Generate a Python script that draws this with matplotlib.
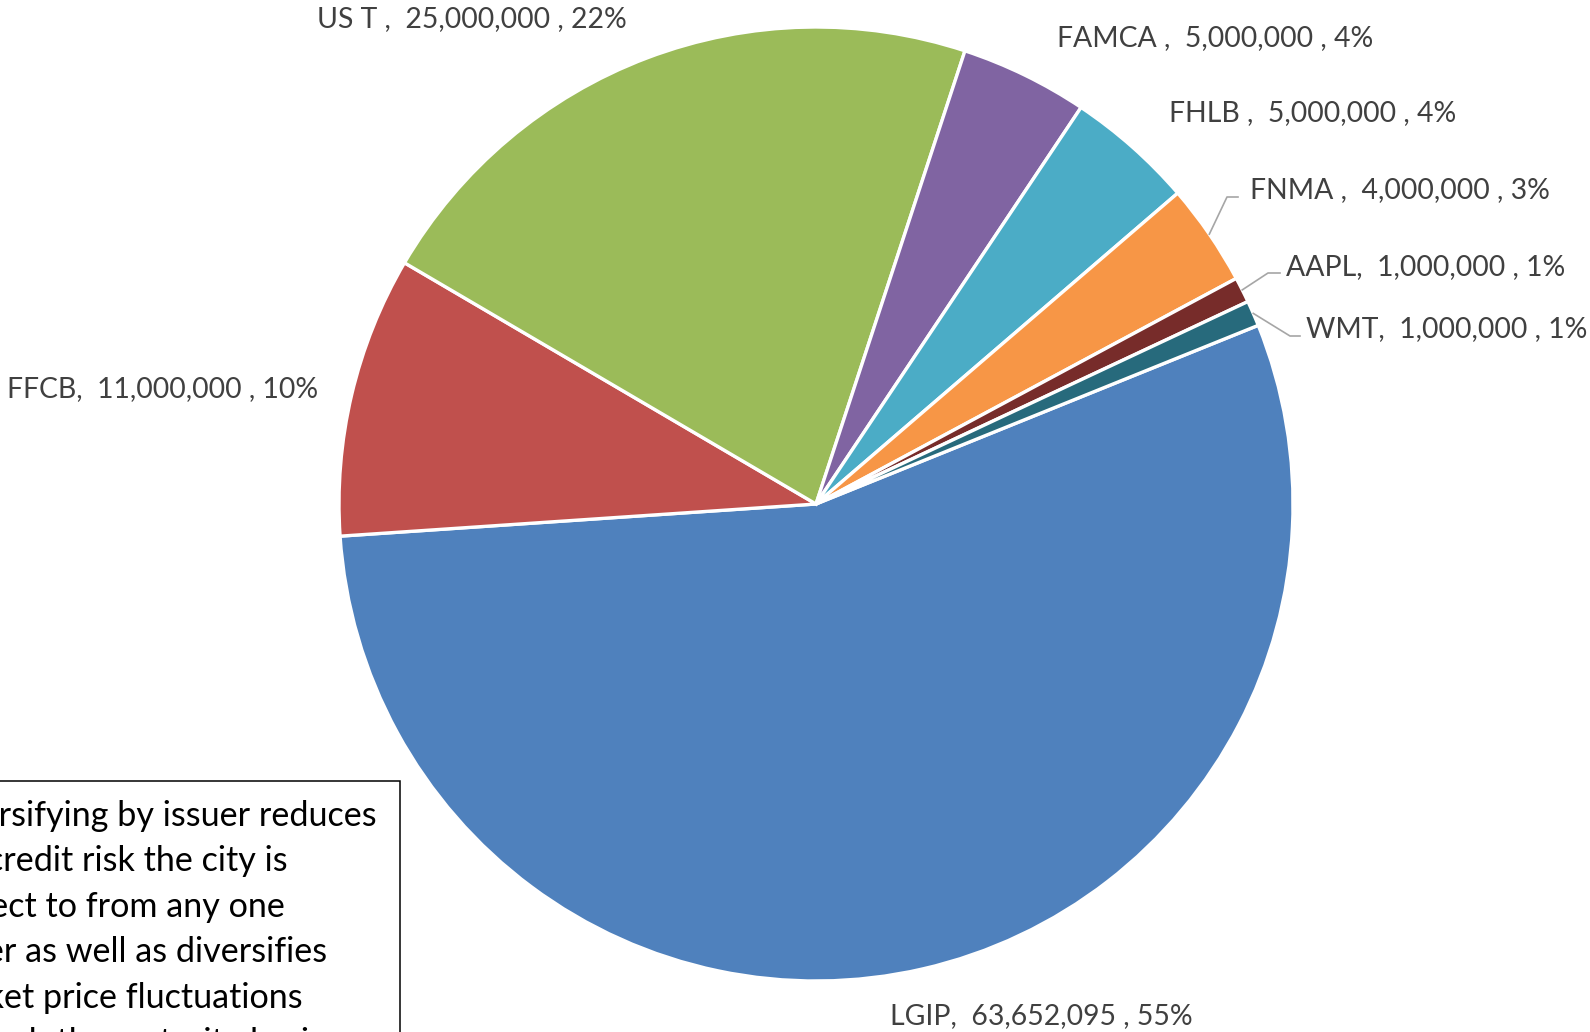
import matplotlib.pyplot as plt
from matplotlib.patches import Rectangle
import numpy as np

plt.rcParams['font.family'] = ['Lato', 'DejaVu Sans']

# holdings by issuer, clockwise from the LGIP slice
issuers = ["LGIP", "FFCB", "US T ", "FAMCA ", "FHLB ", "FNMA ", "AAPL", "WMT"]
amounts = [63652095, 11000000, 25000000, 5000000, 5000000, 4000000, 1000000, 1000000]
colors = ["#4F81BD", "#C0504D", "#9BBB59", "#8064A2", "#4BACC6", "#F79646", "#772C2A", "#276A7C"]

note_lines = ["Diversifying by issuer reduces",
              "the credit risk the city is",
              "subject to from any one",
              "issuer as well as diversifies",
              "market price fluctuations",
              "through the maturity horizon."]

W, H = 1590, 1032
fig = plt.figure(figsize=(W / 100, H / 100), dpi=100)

# pie axes: centre (816, 504) px from top-left, radius 477 px
cx, cy, r = 816, 504, 477
ax = fig.add_axes([(cx - r) / W, (H - cy - r) / H, 2 * r / W, 2 * r / H])

wedges, _ = ax.pie(amounts, colors=colors, startangle=22.0, counterclock=False,
                   radius=1.0, wedgeprops=dict(edgecolor="white", linewidth=2.4))
ax.set_xlim(-1, 1)
ax.set_ylim(-1, 1)
ax.set_aspect("equal")
ax.axis("off")

total = sum(amounts)


def px(x, y):
    # figure pixel (from top-left) -> pie data units
    return (x - cx) / r, (cy - y) / r


# label anchor (left edge, vertical centre) in pixels, and leader elbow/end if any
label_pos = {
    "LGIP": (890, 1016),
    "FFCB": (7, 389),
    "US T ": (317, 19.5),
    "FAMCA ": (1057, 38.5),
    "FHLB ": (1169, 113.5),
    "FNMA ": (1250, 190.5),
    "AAPL": (1286, 267),
    "WMT": (1306, 329.5),
}
leaders = {
    "FNMA ": [(1227, 197), (1238, 197)],
    "AAPL": [(1268, 273), (1280, 273)],
    "WMT": [(1290, 336), (1300, 336)],
}

for w, name, amt in zip(wedges, issuers, amounts):
    pct = amt / total * 100
    txt = "{},  {:,} , {:.0f}%".format(name, amt, pct)
    lx, ly = px(*label_pos[name])
    ax.text(lx, ly, txt, ha="left", va="center", fontsize=20.4, color="#404040",
            clip_on=False)
    if name in leaders:
        mid = np.deg2rad((w.theta1 + w.theta2) / 2)
        xs = [np.cos(mid)] + [px(*p)[0] for p in leaders[name]]
        ys = [np.sin(mid)] + [px(*p)[1] for p in leaders[name]]
        ax.plot(xs, ys, color="#A6A6A6", linewidth=1.2, clip_on=False)

# note box in the lower left corner
fig.patches.append(Rectangle((-20 / W, -40 / H), 420 / W, (H - 781 + 40) / H,
                             transform=fig.transFigure, fill=False,
                             edgecolor="black", linewidth=1.1))
for i, line in enumerate(note_lines):
    y = 816 + i * 45.4
    fig.text(-71 / W, 1 - y / H, line, ha="left", va="center", fontsize=24.6,
             color="black")

plt.savefig("out.png", dpi=100)
